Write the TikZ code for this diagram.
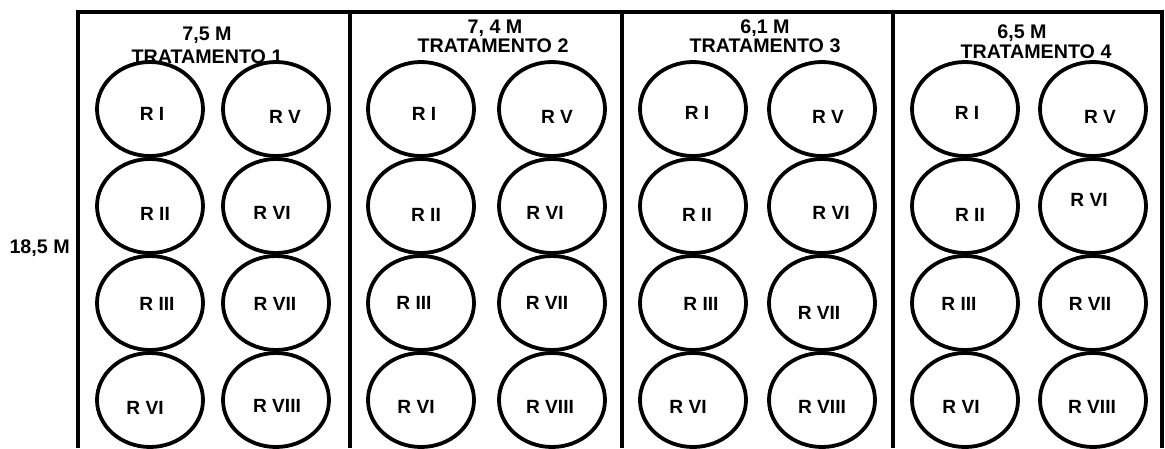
\documentclass[tikz,border=0pt]{standalone}
\usepackage{fontspec}
\setmainfont{Liberation Sans}

\begin{document}
\begin{tikzpicture}[x=0.025cm, y=-0.025cm,
  rep/.style={line width=2.7pt},
  parede/.style={line width=2.2pt},
  rlab/.style={font=\bfseries\fontsize{13.6}{15}\selectfont, inner sep=0pt},
  cab/.style={font=\bfseries\fontsize{14}{16}\selectfont, inner sep=0pt, anchor=base}]
  \useasboundingbox (0,0) rectangle (1165,448);
  % 外框与三道隔墙（底部开口）
  \draw[parede] (78,448) -- (78,12) -- (1162,12) -- (1162,448);
  \foreach \xd in {350,622,893}
    \draw[parede] (\xd,12) -- (\xd,448);
  \node[cab, anchor=base east] (comp) at (70,253) {18,5 M};
  % 每个处理两列、四行的圆
  \foreach \cx in {150,276,421,552,693,822,965,1093}
    \foreach \cy in {109,206,303,400}
      \draw[rep] (\cx,\cy) ellipse [x radius=53, y radius=47];
  % 处理 1
  \node[cab] (m1) at (207,40) {7,5 M};
  \node[cab] (trat1) at (207,63) {TRATAMENTO 1};
  \node[rlab] (a1) at (152,114) {R I};
  \node[rlab] (a2) at (155,214) {R II};
  \node[rlab] (a3) at (157,304) {R III};
  \node[rlab] (a4) at (145,408) {R VI};
  \node[rlab] (a5) at (285,117) {R V};
  \node[rlab] (a6) at (272,213) {R VI};
  \node[rlab] (a7) at (275,304) {R VII};
  \node[rlab] (a8) at (277,406) {R VIII};
  % 处理 2
  \node[cab] (m2) at (495,33) {7, 4 M};
  \node[cab] (trat2) at (493,52) {TRATAMENTO 2};
  \node[rlab] (b1) at (424,114) {R I};
  \node[rlab] (b2) at (426,215) {R II};
  \node[rlab] (b3) at (414,303) {R III};
  \node[rlab] (b4) at (416,407) {R VI};
  \node[rlab] (b5) at (557,117) {R V};
  \node[rlab] (b6) at (545,213) {R VI};
  \node[rlab] (b7) at (547,303) {R VII};
  \node[rlab] (b8) at (550,407) {R VIII};
  % 处理 3
  \node[cab] (m3) at (765,33) {6,1 M};
  \node[cab] (trat3) at (765,52) {TRATAMENTO 3};
  \node[rlab] (c1) at (697,113) {R I};
  \node[rlab] (c2) at (697,215) {R II};
  \node[rlab] (c3) at (701,304) {R III};
  \node[rlab] (c4) at (688,407) {R VI};
  \node[rlab] (c5) at (828,117) {R V};
  \node[rlab] (c6) at (831,213) {R VI};
  \node[rlab] (c7) at (819,313) {R VII};
  \node[rlab] (c8) at (822,407) {R VIII};
  % 处理 4
  \node[cab] (m4) at (1022,38) {6,5 M};
  \node[cab] (trat4) at (1036,58) {TRATAMENTO 4};
  \node[rlab] (d1) at (967,113) {R I};
  \node[rlab] (d2) at (970,215) {R II};
  \node[rlab] (d3) at (959,304) {R III};
  \node[rlab] (d4) at (961,407) {R VI};
  \node[rlab] (d5) at (1100,117) {R V};
  \node[rlab] (d6) at (1089,200) {R VI};
  \node[rlab] (d7) at (1090,304) {R VII};
  \node[rlab] (d8) at (1092,407) {R VIII};
\end{tikzpicture}
\end{document}
